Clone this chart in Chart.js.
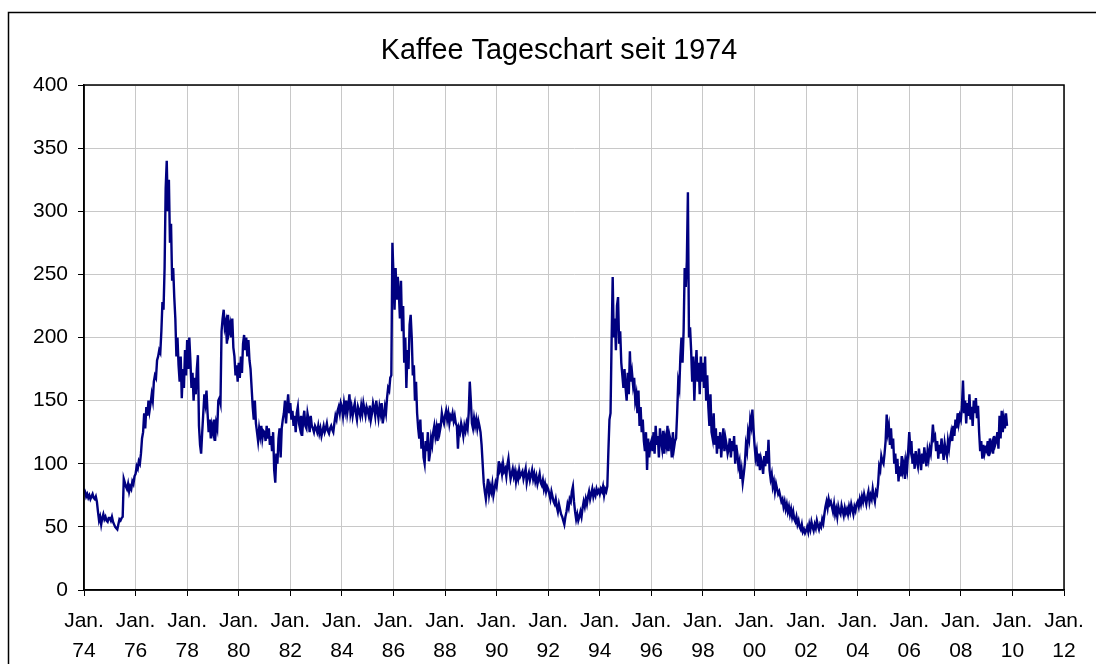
<!DOCTYPE html>
<html>
<head>
<meta charset="utf-8">
<script src="https://cdn.jsdelivr.net/npm/chart.js@4.4.0/dist/chart.umd.min.js"></script>
<style>
html,body{margin:0;padding:0;background:#fff;}
canvas{display:block;}
</style>
</head>
<body>
<canvas id="c" width="1096" height="664"></canvas>
<script>
const titleText = 'Kaffee Tageschart seit 1974';
const seriesName = 'Kaffee';
const startYear = 1974;
const pointsPerYear = 24; // half-monthly readings

const prices = [
  // 1974
  80,78,74,76,73,75,72,74,76,73,72,74,70,62,55,58,52,57,60,56,58,55,54,57,
  // 1975
  57,55,58,54,52,50,49,48,52,56,55,57,58,88,85,82,80,84,78,82,80,86,84,90,
  // 1976
  92,98,96,102,100,108,120,125,140,128,145,138,150,142,148,155,150,165,170,168,182,185,190,188,
  // 1977
  205,228,222,255,318,340,300,325,275,290,245,255,232,215,185,200,178,165,185,152,175,160,190,170,
  // 1978
  198,175,200,182,160,172,150,168,155,175,186,130,115,108,125,140,155,148,158,140,125,135,120,130,
  // 1979
  125,135,118,132,128,150,152,148,205,215,222,208,212,195,218,205,210,200,215,192,185,170,178,165,
  // 1980
  180,168,185,172,195,202,190,200,185,198,182,175,160,145,135,150,132,125,118,128,122,130,120,126,
  // 1981
  125,118,130,120,128,115,122,110,125,95,85,108,100,120,128,105,128,135,140,150,132,145,155,140,
  // 1982
  148,135,142,130,138,125,140,145,132,128,138,122,135,142,130,128,140,135,125,138,130,128,125,130,
  // 1983
  128,125,130,124,128,122,126,130,125,128,132,126,124,128,130,127,125,132,138,135,142,145,140,148,
  // 1984
  145,138,148,142,150,140,146,155,140,145,138,144,148,140,135,145,142,138,146,140,148,143,138,145,
  // 1985
  142,138,146,135,140,148,144,138,150,142,136,145,140,148,132,138,145,140,152,160,158,168,170,275,
  // 1986
  250,222,255,230,248,235,215,245,205,225,180,200,160,190,175,210,218,200,170,178,150,165,140,128,
  // 1987
  120,135,112,125,105,100,118,110,125,102,108,120,115,125,130,122,128,118,132,125,130,140,135,132,
  // 1988
  138,142,135,140,132,138,136,140,134,138,132,130,112,128,125,132,128,122,130,126,132,128,140,165,
  // 1989
  150,132,128,136,130,135,128,134,130,125,115,100,85,78,72,80,88,76,82,78,84,75,80,85,
  // 1990
  82,90,102,95,98,92,100,94,96,90,99,104,95,88,92,96,90,94,86,92,88,95,90,92,
  // 1991
  94,88,92,96,85,90,93,87,91,95,88,92,86,90,84,88,92,85,83,87,80,84,78,82,
  // 1992
  80,76,72,78,74,70,68,72,66,62,68,64,60,58,55,52,58,62,68,65,72,70,78,82,
  // 1993
  70,62,56,60,55,58,62,58,65,70,66,72,68,74,78,72,76,80,74,78,75,80,77,79,
  // 1994
  76,80,78,82,75,80,78,82,110,135,140,198,248,200,215,190,225,232,195,205,180,170,160,175,
  // 1995
  160,150,172,155,189,165,172,162,168,150,155,140,158,130,145,125,135,118,110,125,95,120,105,115,
  // 1996
  118,110,125,108,130,115,122,105,128,118,112,126,108,120,115,130,110,122,118,105,125,112,118,120,
  // 1997
  140,165,160,185,200,180,205,255,240,260,315,200,208,190,165,185,150,175,190,165,180,155,185,165,
  // 1998
  180,160,185,150,170,145,130,155,125,120,140,115,128,108,122,112,125,105,118,128,110,120,115,108,
  // 1999
  112,120,105,118,110,122,100,115,108,98,102,88,95,85,92,100,115,110,125,120,135,130,143,128,
  // 2000
  115,105,110,98,108,95,104,100,92,106,98,110,100,119,95,88,92,82,86,78,84,80,76,78,
  // 2001
  74,70,72,66,70,64,68,62,66,60,64,58,62,56,54,58,52,55,50,48,52,46,48,45,
  // 2002
  47,50,46,52,48,54,50,47,52,49,55,51,48,52,50,56,53,60,66,70,65,72,68,70,
  // 2003
  66,62,68,60,64,58,66,62,60,67,63,59,65,61,64,60,66,62,68,64,60,66,63,68,
  // 2004
  70,66,72,68,74,70,76,72,68,74,78,70,75,72,80,74,70,78,76,84,98,95,106,102,
  // 2005
  100,108,118,139,125,130,115,128,112,120,100,108,92,104,86,98,90,106,95,100,88,102,96,110,
  // 2006
  125,112,118,100,108,96,110,102,98,112,104,95,108,100,113,105,98,110,104,112,108,118,131,120,
  // 2007
  122,110,118,104,115,108,120,112,103,116,110,106,118,112,120,125,118,130,122,135,128,140,132,138,
  // 2008
  135,145,166,140,150,132,148,138,155,135,145,130,150,140,152,136,146,125,110,118,104,115,108,112,
  // 2009
  110,118,106,120,112,116,108,122,115,118,125,112,138,120,142,125,135,128,140,130
];

const xTickYears = [1974,1976,1978,1980,1982,1984,1986,1988,1990,1992,1994,1996,1998,2000,2002,2004,2006,2008,2010,2012];
const xTickPrefix = 'Jan.';
const yTickValues = [0,50,100,150,200,250,300,350,400];

const FONT = '"Liberation Sans", Arial, Helvetica, sans-serif';

const points = prices.map((v, i) => ({ x: startYear + i / pointsPerYear, y: v }));

const framePlugin = {
  id: 'frame',
  beforeDraw(chart) {
    const ctx = chart.ctx;
    ctx.save();
    ctx.fillStyle = '#fff';
    ctx.fillRect(0, 0, chart.width, chart.height);
    ctx.strokeStyle = '#000';
    ctx.lineWidth = 1.5;
    ctx.strokeRect(8.5, 12.5, 2000, 2000);
    ctx.fillStyle = '#000';
    ctx.font = '28.8px ' + FONT;
    ctx.textAlign = 'center';
    ctx.textBaseline = 'alphabetic';
    ctx.fillText(titleText, 559, 59);
    ctx.restore();
  },
  afterDraw(chart) {
    const a = chart.chartArea;
    const ctx = chart.ctx;
    ctx.save();
    ctx.strokeStyle = '#000';
    ctx.lineWidth = 1.5;
    ctx.strokeRect(a.left, a.top, a.right - a.left, a.bottom - a.top);
    ctx.restore();
  }
};

new Chart(document.getElementById('c'), {
  type: 'line',
  data: {
    datasets: [{
      label: seriesName,
      data: points,
      borderColor: '#000080',
      borderWidth: 2.4,
      pointRadius: 0,
      tension: 0,
      fill: false
    }]
  },
  options: {
    responsive: false,
    animation: false,
    devicePixelRatio: 1,
    layout: { padding: { top: 85, left: 0, right: 32, bottom: 0 } },
    plugins: {
      legend: { display: false },
      tooltip: { enabled: false },
      title: { display: false }
    },
    scales: {
      x: {
        type: 'linear',
        min: 1974,
        max: 2012,
        afterBuildTicks: s => { s.ticks = xTickYears.map(v => ({ value: v })); },
        afterFit: s => { s.height = 74; },
        ticks: {
          color: '#000',
          font: { family: FONT, size: 21, lineHeight: 1.43 },
          maxRotation: 0,
          minRotation: 0,
          autoSkip: false,
          padding: 10,
          callback: v => [xTickPrefix, String(v).slice(2)]
        },
        grid: { color: '#c8c8c8', lineWidth: 1, tickLength: 6, tickColor: '#000', drawTicks: true },
        border: { display: true, color: '#000', width: 1.5 }
      },
      y: {
        min: 0,
        max: 400,
        afterBuildTicks: s => { s.ticks = yTickValues.map(v => ({ value: v })); },
        afterFit: s => { s.width = 84; },
        ticks: {
          color: '#000',
          font: { family: FONT, size: 21 },
          padding: 10,
          callback: v => String(v)
        },
        grid: { color: '#c8c8c8', lineWidth: 1, tickLength: 6, tickColor: '#000', drawTicks: true },
        border: { display: true, color: '#000', width: 1.5 }
      }
    }
  },
  plugins: [framePlugin]
});
</script>
</body>
</html>
